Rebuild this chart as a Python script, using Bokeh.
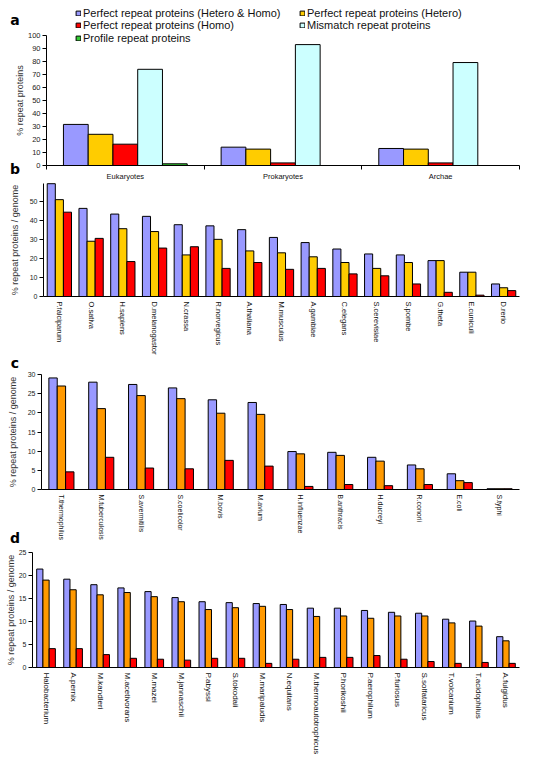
from bokeh.plotting import figure
from bokeh.models import ColumnDataSource, Legend, LegendItem, Range1d, Label, FixedTicker
from bokeh.transform import dodge
from bokeh.layouts import column
from bokeh.embed import file_html
from bokeh.resources import INLINE

FONT = "Liberation Sans"

# ---------------- data ----------------
# panel a
a_groups = ["Eukaryotes", "Prokaryotes", "Archae"]
a_hetero_homo = [31.6, 14.1, 13.1]
a_hetero = [24.0, 12.6, 12.6]
a_homo = [16.4, 2.0, 2.0]
a_mismatch = [74.0, 93.0, 79.2]
a_profile = [1.3, 0.0, 0.0]
a_names = ["Perfect repeat proteins (Hetero & Homo)", "Perfect repeat proteins (Hetero)",
           "Perfect repeat proteins (Homo)", "Mismatch repeat proteins", "Profile repeat proteins"]
a_yticks = [0, 10, 20, 30, 40, 50, 60, 70, 80, 90, 100]

# panel b (eukaryotes)
b_species = ["P.falciparum", "O.sativa", "H.sapiens", "D.melanogastor", "N.crassa", "R.norvegicus",
             "A.thaliana", "M.musculus", "A.gambiae", "C.elegans", "S.cerevisiae", "S.pombe",
             "G.theta", "E.cuniculi", "D.rerio"]
b_hetero_homo = [59.4, 46.4, 43.4, 42.2, 37.8, 37.2, 35.2, 31.1, 28.4, 25.0, 22.4, 21.9, 18.9, 12.8, 6.6]
b_hetero = [51.0, 29.1, 35.7, 34.2, 21.9, 30.1, 24.0, 23.0, 20.9, 17.9, 14.8, 17.9, 18.9, 12.8, 4.6]
b_homo = [44.4, 30.6, 18.4, 25.5, 26.2, 14.8, 17.9, 14.3, 14.8, 11.9, 10.9, 6.6, 2.2, 0.7, 3.1]
b_yticks = [0, 10, 20, 30, 40, 50]

# panel c (prokaryotes)
c_species = ["T.thermophilus", "M.tuberculosis", "S.avermitilis", "S.coelicolor", "M.bovis", "M.avium",
             "H.influenzae", "B.anthracis", "H.ducreyi", "R.conorii", "E.coli", "S.typhi"]
c_hetero_homo = [29.1, 28.0, 27.4, 26.5, 23.4, 22.7, 9.9, 9.7, 8.4, 6.4, 4.1, 0.2]
c_hetero = [27.0, 21.1, 24.5, 23.7, 19.9, 19.6, 9.3, 8.9, 7.4, 5.4, 2.3, 0.2]
c_homo = [4.6, 8.4, 5.6, 5.4, 7.6, 6.1, 0.8, 1.3, 1.0, 1.3, 1.8, 0.2]
c_yticks = [0, 5, 10, 15, 20, 25, 30]

# panel d (archaea)
d_species = ["Halobacterium", "A.pernix", "M.kandleri", "M.acetivorans", "M.mazei", "M.jannaschii",
             "P.abyssi", "S.tokodaii", "M.maripaludis", "N.equitans", "M.thermoautotrophicus",
             "P.horikoshii", "P.aerophilum", "P.furiosus", "S.solfataricus", "T.volcanium",
             "T.acidophilus", "A.fulgidus"]
d_hetero_homo = [21.4, 19.2, 18.0, 17.3, 16.5, 15.2, 14.3, 14.1, 13.9, 13.7, 12.9, 12.9, 12.4, 12.0, 11.8, 10.5, 10.1, 6.7]
d_hetero = [19.0, 16.9, 15.8, 16.3, 15.4, 14.3, 12.6, 13.0, 13.3, 12.6, 11.1, 11.2, 10.7, 11.2, 11.2, 9.7, 9.0, 5.8]
d_homo = [4.1, 4.1, 2.8, 2.0, 1.8, 1.6, 2.0, 2.0, 0.9, 1.8, 2.2, 2.2, 2.6, 1.8, 1.3, 0.9, 1.1, 0.9]
d_yticks = [0, 5, 10, 15, 20, 25]

BLUE = "#9999FF"
YELLOW = "#FFCC00"
ORANGE = "#FF9900"
RED = "#FF0000"
CYAN = "#CCFFFF"
GREEN = "#33CC33"

W = 524
PAGE_L = 8
AXIS_R = 527.0


def make_fig(cats, yticks, ymax, top, height, x0, y0, ytop,
             ylabel, ylabel_standoff, tick_size="7px", cat_size="8px", vertical=True):
    n = len(cats)
    u = (AXIS_R - x0) / n
    v = (y0 - ytop) / ymax
    xs = -0.5 - (x0 - PAGE_L) / u
    xe = n - 0.5 + (PAGE_L + W - AXIS_R) / u
    ye = ymax + (ytop - top) / v
    ys = -(top + height - y0) / v
    p = figure(width=W, height=height, x_range=Range1d(xs, xe), y_range=Range1d(ys, ye),
               output_backend="svg", toolbar_location=None,
               min_border=0, min_border_left=0, min_border_right=0,
               min_border_top=0, min_border_bottom=0)
    p.outline_line_color = None
    p.xgrid.visible = False
    p.ygrid.visible = False
    p.background_fill_color = "white"
    p.border_fill_color = "white"

    ya = p.yaxis[0]
    ya.fixed_location = -0.5
    ya.bounds = (0, ymax)
    ya.ticker = FixedTicker(ticks=yticks)
    ya.major_tick_out = 4
    ya.major_tick_in = 0
    ya.minor_tick_line_color = None
    ya.axis_line_color = "black"
    ya.major_tick_line_color = "black"
    ya.major_label_text_font = FONT
    ya.major_label_text_font_size = tick_size
    ya.major_label_text_color = "#222222"
    ya.major_label_standoff = 2
    ya.axis_label = ylabel
    ya.axis_label_text_font = FONT
    ya.axis_label_text_font_size = "9px"
    ya.axis_label_text_font_style = "normal"
    ya.axis_label_text_color = "#333333"
    ya.axis_label_standoff = ylabel_standoff

    xa = p.xaxis[0]
    xa.fixed_location = 0
    xa.bounds = (-0.5, n - 0.5)
    xa.ticker = FixedTicker(ticks=list(range(n)))
    xa.major_label_overrides = {i: c for i, c in enumerate(cats)}
    xa.axis_line_color = "black"
    xa.major_tick_line_color = None
    xa.major_tick_out = 0
    xa.major_tick_in = 0
    xa.minor_tick_line_color = None
    xa.minor_tick_out = 0
    xa.minor_tick_in = 0
    xa.major_label_text_font = FONT
    xa.major_label_text_font_size = cat_size
    xa.major_label_text_color = "#111111"
    xa.major_label_standoff = 5
    if vertical:
        xa.major_label_orientation = "vertical"
    return p


def bars(p, series, colors, width):
    n = len(series)
    rends = []
    for i, (vals, col) in enumerate(zip(series, colors)):
        pos = [k for k, v in enumerate(vals) if v > 0]
        ts = [v for v in vals if v > 0]
        src = ColumnDataSource(dict(pos=pos, top=ts))
        off = (i - (n - 1) / 2) * width
        r = p.vbar(x=dodge("pos", off), top="top", bottom=0, width=width,
                   source=src, fill_color=col, line_color="black", line_width=1)
        rends.append(r)
    return rends


def letter(p, txt, page_x, page_y, top, height):
    p.add_layout(Label(x=page_x - PAGE_L, y=height - (page_y - top), x_units="screen", y_units="screen",
                       text=txt, text_font="DejaVu Sans", text_font_size="14px",
                       text_font_style="bold", text_color="black",
                       text_align="center", text_baseline="middle"))


def legend_row(p, item, cx, cy, height):
    # one legend row; cx = glyph left, cy = row centre (canvas px from top)
    lg = Legend(items=[item], orientation="vertical", location=(cx, height - (cy + 7)),
                glyph_width=6, glyph_height=6, label_height=14, label_standoff=2,
                label_text_font=FONT, label_text_font_size="11px", label_text_color="#111111",
                spacing=0, padding=0, margin=0, border_line_color=None, background_fill_alpha=0)
    p.add_layout(lg, "center")


# ---------------- panel a ----------------
TA, HA = 8, 182
pa = make_fig(a_groups, a_yticks, 100, TA, HA, 54, 173, 43, "% repeat proteins", 0,
              tick_size="7.5px", cat_size="7.5px", vertical=False)
pa.xaxis[0].major_label_standoff = 2
pa.xaxis[0].ticker = FixedTicker(ticks=list(range(len(a_groups))),
                                 minor_ticks=[k - 0.5 for k in range(len(a_groups) + 1)])
pa.xaxis[0].minor_tick_line_color = "black"
pa.xaxis[0].minor_tick_out = 4
ra = bars(pa, [a_hetero_homo, a_hetero, a_homo, a_mismatch, a_profile],
          [BLUE, YELLOW, RED, CYAN, GREEN], 0.157)
items = [LegendItem(label=nm, renderers=[r]) for nm, r in zip(a_names, ra)]
legend_row(pa, items[0], 75, 12.8, HA)
legend_row(pa, items[2], 75, 25.2, HA)
legend_row(pa, items[4], 75, 37.6, HA)
legend_row(pa, items[1], 299, 12.8, HA)
legend_row(pa, items[3], 299, 25.2, HA)
letter(pa, "a", 22.5, 27.9, TA, HA)
letter(pa, "b", 22.5, 176.6, TA, HA)

# ---------------- panel b ----------------
TB, HB = 190, 174
pb = make_fig(b_species, b_yticks, 59.5, TB, HB, 51, 304, 191, "% repeat proteins / genome", 7,
              cat_size="7.5px")
bars(pb, [b_hetero_homo, b_hetero, b_homo], [BLUE, YELLOW, RED], 0.255)

# ---------------- panel c ----------------
TC, HC = 364, 191
pc = make_fig(c_species, c_yticks, 30, TC, HC, 49, 497, 382, "% repeat proteins / genome", 7,
              cat_size="7px")
bars(pc, [c_hetero_homo, c_hetero, c_homo], [BLUE, ORANGE, RED], 0.21)
letter(pc, "c", 22.5, 370.5, TC, HC)
letter(pc, "d", 22.5, 545, TC, HC)

# ---------------- panel d ----------------
TD, HD = 555, 217
pd_ = make_fig(d_species, d_yticks, 25, TD, HD, 40, 675, 560, "% repeat proteins / genome", 0)
bars(pd_, [d_hetero_homo, d_hetero, d_homo], [BLUE, ORANGE, RED], 0.23)

p = column(pa, pb, pc, pd_, spacing=0)
open("out.html", "w").write(file_html(p, INLINE))
